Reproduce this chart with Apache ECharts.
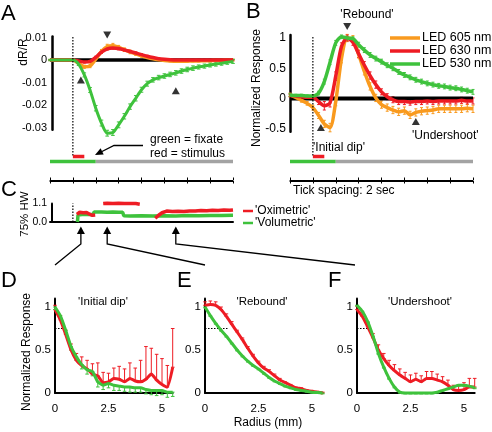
<!DOCTYPE html>
<html><head><meta charset="utf-8">
<script src="https://cdn.jsdelivr.net/npm/echarts@6/dist/echarts.min.js"></script>
<style>html,body{margin:0;padding:0;background:#fff}#c{width:492px;height:432px}</style>
</head><body><div id="c"></div>
<script>
// ---------- DATA ----------
const timeAB = [-2,-1.5,-1,-0.5,0,0.5,1,1.5,2,2.5,3,3.5,4,4.5,5,5.5,6,6.5,7,7.5,8,8.5,9,9.5,10,10.5,11,11.5,12,12.5,13,13.5,14];
// Panel A: dR/R
const a605 = [0,0,0,0,0,-0.0015,-0.003,-0.0026,0.0004,0.0038,0.006,0.0064,0.0056,0.0046,0.0036,0.0027,0.0019,0.0011,0.0005,0.0001,-0.0002,-0.0004,-0.0005,-0.0005,-0.0005,-0.0004,-0.0004,-0.0003,-0.0003,-0.0002,-0.0002,-0.0001,0];
const a630 = [0,0,0,0,0,-0.0004,-0.0009,-0.0006,0.0012,0.0035,0.005,0.0054,0.0051,0.0045,0.0038,0.0031,0.0024,0.0017,0.0011,0.0006,0.0003,0.0001,0,0,0,0,0,0,0,0,0,0,0];
const a530 = [0,0,0,0,0,-0.0018,-0.0066,-0.0133,-0.0214,-0.028,-0.0325,-0.0322,-0.0288,-0.025,-0.0207,-0.017,-0.0132,-0.0105,-0.0088,-0.0078,-0.0071,-0.0064,-0.0057,-0.0049,-0.0042,-0.0036,-0.0031,-0.0027,-0.0022,-0.0018,-0.0014,-0.001,-0.0006];
const a605Err = [0.0003,0.0003,0.0003,0.0003,0.0003,0.0005,0.0007,0.0008,0.0008,0.0009,0.001,0.001,0.0009,0.0008,0.0008,0.0007,0.0006,0.0006,0.0005,0.0005,0.0004,0.0004,0.0004,0.0004,0.0004,0.0004,0.0004,0.0004,0.0004,0.0004,0.0004,0.0004,0.0004];
const a630Err = [0.0002,0.0002,0.0002,0.0002,0.0002,0.0003,0.0004,0.0004,0.0005,0.0005,0.0006,0.0006,0.0006,0.0005,0.0005,0.0005,0.0004,0.0004,0.0004,0.0003,0.0003,0.0003,0.0003,0.0003,0.0003,0.0003,0.0003,0.0003,0.0003,0.0003,0.0003,0.0003,0.0003];
const a530Err = [0.0003,0.0003,0.0003,0.0003,0.0003,0.0006,0.0009,0.0011,0.0012,0.0013,0.0013,0.0013,0.0013,0.0012,0.0012,0.0012,0.0011,0.0011,0.001,0.001,0.001,0.001,0.001,0.001,0.001,0.001,0.0009,0.0009,0.0009,0.0009,0.0009,0.0009,0.0009];
// Panel B: normalized response
const b605 = [0.06,0.02,-0.03,-0.08,-0.15,-0.28,-0.42,-0.48,-0.05,0.66,1.0,0.98,0.73,0.45,0.2,0.01,-0.1,-0.15,-0.19,-0.22,-0.2,-0.27,-0.23,-0.21,-0.2,-0.19,-0.17,-0.17,-0.17,-0.17,-0.17,-0.16,-0.17];
const b630 = [0.05,0.04,0.03,0.02,0.02,-0.05,-0.12,-0.07,0.37,0.86,1.0,0.93,0.74,0.55,0.38,0.23,0.11,0.03,-0.02,-0.05,-0.05,-0.06,-0.05,-0.05,-0.04,-0.05,-0.04,-0.04,-0.04,-0.04,-0.03,-0.04,-0.04];
const b530 = [0.06,0.05,0.05,0.04,0.04,0.09,0.28,0.6,0.92,1.02,1.0,0.99,0.89,0.8,0.72,0.66,0.61,0.55,0.5,0.44,0.39,0.35,0.31,0.28,0.25,0.23,0.21,0.2,0.18,0.17,0.15,0.13,0.11];
const b605Err = [0.03,0.03,0.03,0.03,0.04,0.05,0.06,0.07,0.07,0.07,0.06,0.06,0.06,0.06,0.06,0.06,0.06,0.06,0.06,0.06,0.06,0.06,0.06,0.06,0.06,0.06,0.06,0.06,0.06,0.06,0.06,0.06,0.06];
const b630Err = [0.02,0.02,0.02,0.02,0.03,0.05,0.07,0.07,0.07,0.06,0.05,0.05,0.06,0.06,0.06,0.06,0.05,0.05,0.05,0.05,0.05,0.05,0.05,0.05,0.05,0.05,0.05,0.05,0.05,0.05,0.05,0.05,0.05];
const b530Err = [0.02,0.02,0.02,0.02,0.02,0.03,0.04,0.04,0.04,0.03,0.03,0.03,0.04,0.04,0.04,0.04,0.04,0.04,0.04,0.04,0.04,0.04,0.04,0.04,0.04,0.04,0.04,0.04,0.04,0.04,0.04,0.04,0.04];
// protocol timing (s)
const fixatePeriod = [-2, 2];
const stimulusPeriod = [0, 1];
const recordEnd = 14;
const eventTimes = [0.7, 3, 9];          // initial dip, rebound, undershoot
const aMarkerLevel = [-0.0089, 0.0111, -0.0136];
const bMarkerLevel = [-0.48, 1.19, -0.38];
// Panel C: 75% half-width
const oxiT = [0.35,0.6,0.9,1.2,1.5,1.7,1.95,2.3,2.65,3.0,3.5,4.0,4.5,5.0,5.5,5.85,6.5,7.2,7.5,7.8,8.2,8.7,9.2,9.7,10.2,10.7,11.2,11.7,12.2,12.7,13.2,13.7,14];
const oxiC = [0.45,0.58,0.55,0.56,0.45,0.4,0.42,null,1.1,1.12,1.1,1.11,1.1,1.1,1.1,1.06,null,0.22,0.4,0.55,0.65,0.62,0.64,0.63,0.66,0.65,0.68,0.67,0.7,0.68,0.71,0.7,0.72];
const volT = [0.4,0.45,0.8,1.2,1.6,1.78,1.85,2.5,3.0,3.5,4.0,4.35,4.45,5,6,7,8,9,10,11,12,13,14];
const volC = [0,0.42,0.45,0.45,0.45,0.45,0.6,0.6,0.58,0.6,0.58,0.58,0.37,0.36,0.37,0.35,0.37,0.36,0.38,0.37,0.38,0.38,0.4];
// Panels D-F: spatial profiles
const radius = [0,0.25,0.5,0.75,1,1.25,1.5,1.75,2,2.25,2.5,2.75,3,3.25,3.5,3.75,4,4.25,4.5,4.75,5,5.25,5.5];
const dOxi = [0.97,0.85,0.68,0.5,0.38,0.32,0.28,0.22,0.2,0.12,0.13,0.17,0.16,0.13,0.17,0.14,0.13,0.16,0.22,0.15,0.1,0.07,0.3];
const dOxiErr = [0.05,0.05,0.05,0.07,0.08,0.1,0.1,0.12,0.15,0.12,0.1,0.12,0.15,0.15,0.18,0.15,0.25,0.38,0.3,0.3,0.3,0.25,0.45];
const dVol = [1.0,0.9,0.73,0.54,0.42,0.33,0.27,0.25,0.13,0.09,0.11,0.09,0.08,0.07,0.07,0.06,0.06,0.04,0.03,0.03,0.03,0.01,0.01];
const dVolErr = [0.03,0.03,0.04,0.04,0.04,0.05,0.05,0.05,0.06,0.05,0.05,0.06,0.05,0.05,0.06,0.05,0.05,0.05,0.05,0.06,0.05,0.06,0.05];
const eOxi = [1.02,1.03,1.02,0.97,0.89,0.8,0.71,0.62,0.52,0.43,0.35,0.29,0.25,0.2,0.15,0.12,0.09,0.06,0.05,0.03,0.02,0.01,0];
const eOxiErr = [0.04,0.04,0.04,0.03,0.03,0.03,0.02,0.02,0.02,0.02,0.02,0.02,0.02,0.02,0.02,0.01,0.01,0.01,0.01,0.01,0.01,0.01,0.01];
const eVol = [1.0,0.9,0.81,0.73,0.66,0.58,0.5,0.43,0.37,0.32,0.28,0.23,0.18,0.14,0.11,0.08,0.06,0.04,0.03,0.02,0.01,0.005,0];
const eVolErr = [0.01,0.01,0.01,0.01,0.01,0.01,0.01,0.01,0.01,0.01,0.01,0.01,0.01,0.01,0.01,0.01,0.01,0.01,0.01,0.01,0.01,0.01,0.01];
const fOxi = [0.97,0.89,0.77,0.64,0.5,0.4,0.32,0.26,0.21,0.17,0.13,0.16,0.13,0.17,0.17,0.15,0.13,0.09,0.04,0.03,0.04,0.07,0.07];
const fOxiErr = [0.04,0.05,0.05,0.05,0.06,0.06,0.06,0.07,0.07,0.07,0.08,0.07,0.07,0.08,0.08,0.07,0.06,0.06,0.05,0.06,0.08,0.1,0.1];
const fVol = [1.02,0.95,0.83,0.66,0.46,0.3,0.17,0.07,0.01,0,0,0,0,0,0,0.01,0.03,0.05,0.07,0.09,0.09,0.08,0.06];
const fVolErr = [0.01,0.01,0.01,0.01,0.01,0.01,0.01,0.01,0.01,0.01,0.01,0.01,0.01,0.01,0.01,0.01,0.01,0.01,0.01,0.01,0.01,0.01,0.01];
const halfWidth75 = [0.45, 1.05, 0.6];
// labels
const ledNames = ['LED 605 nm','LED 630 nm','LED 530 nm'];
const hwNames = ["'Oximetric'","'Volumetric'"];
const profileTitles = ["'Initial dip'","'Rebound'","'Undershoot'"];
const yTicksA = [-0.03,-0.02,-0.01,0,0.01];
const yTicksB = [-0.5,0,0.5,1];
const yTicksC = [0,1.1];
const yTicksR = [0,0.5,1];
const xTicksR = [0,2.5,5];

// ---------- STYLE ----------
const FONT = 'Liberation Sans, Arial, Helvetica, sans-serif';
const ORANGE = '#f99a1e', RED = '#ee1c24', GREEN = '#3ec23c', GRAY = '#a3a3a3';

const pair = (xs, ys) => xs.map((x, i) => [x, ys[i]]);
const sym = (xs, ys, e) => xs.map((x, i) => [x, ys[i] - e[i], ys[i] + e[i]]);
const up = (xs, ys, e) => xs.map((x, i) => [x, ys[i], ys[i] + e[i]]);
const down = (xs, ys, e) => xs.map((x, i) => [x, ys[i] - e[i], ys[i]]);

function lineS(name, xi, yi, data, color, width, extra) {
  return Object.assign({type:'line', name, xAxisIndex:xi, yAxisIndex:yi, data, symbol:'none', showSymbol:false,
    color, itemStyle:{color}, lineStyle:{color, width}, smooth:0.25, clip:false, silent:true, animation:false,
    emphasis:{disabled:true}}, extra || {});
}
function errS(xi, yi, data, color, cap, lw) {
  return {type:'custom', xAxisIndex:xi, yAxisIndex:yi, data, silent:true, animation:false, clip:false,
    itemStyle:{color}, encode:{x:0, y:[1,2]},
    renderItem(params, api) {
      const x = api.value(0), lo = api.value(1), hi = api.value(2);
      const a = api.coord([x, lo]), b = api.coord([x, hi]);
      const st = {stroke: color, lineWidth: lw || 1};
      return {type:'group', children:[
        {type:'line', shape:{x1:a[0], y1:a[1], x2:b[0], y2:b[1]}, style:st},
        {type:'line', shape:{x1:a[0]-cap, y1:a[1], x2:a[0]+cap, y2:a[1]}, style:st},
        {type:'line', shape:{x1:b[0]-cap, y1:b[1], x2:b[0]+cap, y2:b[1]}, style:st}
      ]};
    }};
}
const hidden = (gi, min, max) => ({gridIndex:gi, type:'value', min, max, show:false});
const lab = (extra) => Object.assign({color:'#000', fontSize:11.5, fontFamily:FONT}, extra);
const axLine = (w) => ({show:true, onZero:false, lineStyle:{color:'#000', width:w}});

const grids = [
  {left:50, top:36.4, width:183, height:93.4},   //0 A
  {left:50, top:37, width:183, height:127},      //1 A overlay
  {left:50, top:180, width:183, height:1},       //2 A ticks
  {left:290, top:35, width:183, height:96.8},    //3 B
  {left:290, top:37, width:183, height:127},     //4 B overlay
  {left:290, top:180, width:183, height:1},      //5 B ticks
  {left:50, top:203.5, width:183, height:18.5},  //6 C
  {left:55, top:298.4, width:117.7, height:94.6},//7 D
  {left:205, top:298.4, width:117.7, height:94.6},//8 E
  {left:357, top:298.4, width:117.7, height:94.6} //9 F
];
const tickAxis = (gi, pos) => ({gridIndex:gi, type:'value', min:-2, max:14, interval:2, position:pos,
  axisLine:axLine(1), axisTick:{show:true, length:2.5, lineStyle:{color:'#000', width:1}},
  axisLabel:{show:false}, splitLine:{show:false}});
const radAxisX = (gi) => ({gridIndex:gi, type:'value', min:0, max:5.5, axisLine:axLine(2), axisTick:{show:false},
  splitLine:{show:false}, axisLabel:lab({customValues:xTicksR, margin:10, formatter:v => String(v)})});
const radAxisY = (gi) => ({gridIndex:gi, type:'value', min:0, max:1.1, axisLine:axLine(2), axisTick:{show:false},
  splitLine:{show:false}, axisLabel:lab({customValues:yTicksR, margin:4, formatter:v => String(v)})});

const xAxes = [
  hidden(0, -2, 14), hidden(1, -2, 14), tickAxis(2, 'bottom'), tickAxis(2, 'top'),
  hidden(3, -2, 14), hidden(4, -2, 14), tickAxis(5, 'bottom'), tickAxis(5, 'top'),
  {gridIndex:6, type:'value', min:-2, max:14, axisLine:axLine(2), axisTick:{show:false}, axisLabel:{show:false}, splitLine:{show:false}},
  radAxisX(7), radAxisX(8), radAxisX(9)
];
const yAxes = [
  {gridIndex:0, type:'value', min:-0.031, max:0.0105, offset:-2, axisLine:axLine(2.5), axisTick:{show:false}, splitLine:{show:false},
    axisLabel:lab({customValues:yTicksA, margin:5, fontSize:11, formatter:v => Math.abs(v) < 1e-9 ? '0' : v.toFixed(2)})},
  hidden(1, 0, 1), hidden(2, 0, 1),
  {gridIndex:3, type:'value', min:-0.55, max:1.05, axisLine:axLine(2.5), axisTick:{show:false}, splitLine:{show:false},
    axisLabel:lab({customValues:yTicksB, margin:4, fontSize:12, formatter:v => String(v)})},
  hidden(4, 0, 1), hidden(5, 0, 1),
  {gridIndex:6, type:'value', min:0, max:1.1, offset:-2, axisLine:axLine(2), axisTick:{show:false}, splitLine:{show:false},
    axisLabel:lab({customValues:yTicksC, margin:5, fontSize:10.5, formatter:v => v.toFixed(1)})},
  radAxisY(7), radAxisY(8), radAxisY(9)
];

const series = [];
// ---- A ----
series.push(lineS('A zero', 0, 0, [[timeAB[0], 0], [recordEnd, 0]], '#000', 3.5, {smooth:false}));
series.push(lineS('A 605', 0, 0, pair(timeAB, a605), ORANGE, 3.5));
series.push(errS(0, 0, sym(timeAB, a605, a605Err), ORANGE, 1.5));
series.push(lineS('A 630', 0, 0, pair(timeAB, a630), RED, 3.5));
series.push(errS(0, 0, sym(timeAB, a630, a630Err), RED, 1.5));
series.push(lineS('A 530', 0, 0, pair(timeAB, a530), GREEN, 3));
series.push(errS(0, 0, sym(timeAB, a530, a530Err), GREEN, 1.8));
series.push({type:'scatter', xAxisIndex:0, yAxisIndex:0, symbol:'triangle', symbolSize:[8,7], clip:false, silent:true,
  itemStyle:{color:'#000'}, animation:false,
  data: eventTimes.map((t, i) => ({value:[t, aMarkerLevel[i]], symbolRotate: i === 1 ? 180 : 0}))});
// ---- B ----
series.push(lineS('B zero', 4, 3, [[timeAB[0], 0], [recordEnd, 0]], '#000', 4, {smooth:false}));
series.push(lineS(ledNames[0], 4, 3, pair(timeAB, b605), ORANGE, 3.5));
series.push(errS(4, 3, sym(timeAB, b605, b605Err), ORANGE, 1.5));
series.push(lineS(ledNames[1], 4, 3, pair(timeAB, b630), RED, 3.5));
series.push(errS(4, 3, sym(timeAB, b630, b630Err), RED, 1.5));
series.push(lineS(ledNames[2], 4, 3, pair(timeAB, b530), GREEN, 3.5));
series.push(errS(4, 3, sym(timeAB, b530, b530Err), GREEN, 1.5));
series.push({type:'scatter', xAxisIndex:4, yAxisIndex:3, symbol:'triangle', symbolSize:[8,7], clip:false, silent:true,
  itemStyle:{color:'#000'}, animation:false,
  data: eventTimes.map((t, i) => ({value:[t, bMarkerLevel[i]], symbolRotate: i === 1 ? 180 : 0}))});
// ---- protocol bars & stimulus onset (A and B overlays) ----
[[1, 1], [5, 4]].forEach(([xi, yi]) => {
  series.push(lineS('onset', xi, yi, [[stimulusPeriod[0], 1], [stimulusPeriod[0], 0.055]], '#000', 1.2, {smooth:false, lineStyle:{color:'#000', width:1.2, type:[1.5,1.5]}}));
  series.push(lineS('fixate', xi, yi, [[fixatePeriod[0], 0.02], [fixatePeriod[1], 0.02]], GREEN, 3.5, {smooth:false}));
  series.push(lineS('post', xi, yi, [[fixatePeriod[1], 0.02], [recordEnd, 0.02]], GRAY, 3.5, {smooth:false}));
  series.push(lineS('stim', xi, yi, [[stimulusPeriod[0], 0.059], [stimulusPeriod[1], 0.059]], RED, 3.5, {smooth:false}));
});
// ---- C ----
series.push(lineS('C onset', 8, 6, [[stimulusPeriod[0], 0], [stimulusPeriod[0], 1.1]], '#000', 1.2, {smooth:false, lineStyle:{color:'#000', width:1.2, type:[1.5,1.5]}}));
series.push(lineS(hwNames[1], 8, 6, pair(volT, volC), GREEN, 3.5, {smooth:false}));
series.push(lineS(hwNames[0], 8, 6, pair(oxiT, oxiC), RED, 3.5, {smooth:false, connectNulls:false}));
// ---- D, E, F ----
const prof = [[dOxi, dOxiErr, dVol, dVolErr], [eOxi, eOxiErr, eVol, eVolErr], [fOxi, fOxiErr, fVol, fVolErr]];
prof.forEach(([ox, oxE, vo, voE], k) => {
  const xi = 9 + k, yi = 7 + k;
  series.push(lineS('hw', xi, yi, [[0, 0.75], [halfWidth75[k], 0.75]], '#000', 1, {smooth:false, lineStyle:{color:'#000', width:1, type:[1.5,1.5]}}));
  series.push(errS(xi, yi, up(radius, ox, oxE), RED, 1.8));
  series.push(lineS('oxi' + k, xi, yi, pair(radius, ox), RED, 3, {smooth:0.15}));
  series.push(errS(xi, yi, down(radius, vo, voE), GREEN, 1.8));
  series.push(lineS('vol' + k, xi, yi, pair(radius, vo), GREEN, 3, {smooth:0.15}));
});

const legendText = (size) => ({color:'#000', fontSize:size, fontFamily:FONT, padding:[0,0,0,-3]});
const option = {
  animation:false,
  grid:grids, xAxis:xAxes, yAxis:yAxes, series,
  legend:[
    {data:ledNames, orient:'vertical', left:390, top:31.5, padding:0, itemGap:0, icon:'rect', itemWidth:30, itemHeight:3.5,
      selectedMode:false, textStyle:legendText(12.5)},
    {data:hwNames, orient:'vertical', left:243, top:205, padding:0, itemGap:0, icon:'rect', itemWidth:10, itemHeight:2.5,
      selectedMode:false, textStyle:legendText(12)}
  ]
};
const chart = echarts.init(document.getElementById('c'));
chart.setOption(option);

// ---------- annotations ----------
function T(text, x, y, size, align, rot) {
  return {type:'text', x, y, rotation: rot || 0, silent:true,
    style:{text, fill:'#000', fontSize:size, fontFamily:FONT, align: align || 'left', verticalAlign:'middle'}};
}
const g = [
  T('A', 1, 14, 22), T('B', 246, 12, 22), T('C', 1, 190, 22), T('D', 1, 281, 22), T('E', 177, 281, 22), T('F', 328, 281, 22),
  T("'Rebound'", 367, 15, 12, 'center'), T("'Initial dip'", 313, 148, 12), T("'Undershoot'", 412, 136, 12),
  T('green = fixate', 150, 140, 12), T('red = stimulus', 150, 154, 12),
  T('Tick spacing: 2 sec', 293, 191, 12),
  T('dR/R', 24, 52, 12, 'center', Math.PI/2),
  T('Normalized Response', 257, 88, 12, 'center', Math.PI/2),
  T('75% HW', 25, 214, 11.5, 'center', Math.PI/2),
  T('Normalized Response', 27, 352, 12, 'center', Math.PI/2),
  T('Radius (mm)', 268, 423, 12, 'center'),
  T(profileTitles[0], 103, 302, 11.5, 'center'), T(profileTitles[1], 262, 302, 11.5, 'center'), T(profileTitles[2], 420, 302, 11.5, 'center'),
  // arrow to stimulus bar
  {type:'polyline', silent:true, shape:{points:[[143,145.5],[114,145.5],[100,152.5]]}, style:{stroke:'#000', lineWidth:1.3, fill:null}},
  {type:'polygon', silent:true, shape:{points:[[95,155],[100.6,148.3],[103.7,154.5]]}, style:{fill:'#000'}}
];
const targets = [[55,265],[205,265],[355,265]];
eventTimes.forEach((t, i) => {
  const x = chart.convertToPixel({xAxisIndex:8}, t);
  g.push({type:'polygon', silent:true, shape:{points:[[x,226.5],[x-4,234],[x+4,234]]}, style:{fill:'#000'}});
  g.push({type:'polyline', silent:true, shape:{points:[[x,233],[x,244],targets[i]]}, style:{stroke:'#000', lineWidth:1.3, fill:null}});
});
chart.setOption({graphic:g});
</script></body></html>
